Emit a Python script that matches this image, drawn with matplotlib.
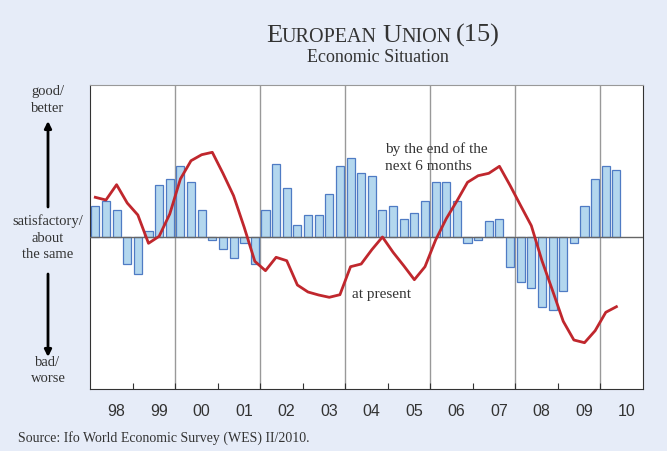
import numpy as np
import matplotlib.pyplot as plt

# quarterly data, 1998Q1 .. 2010Q2 (balance, arbitrary units)
present = [39.7, 37, 52.3, 34,
           22, -6.3, 0.7, 23,
           58, 76.3, 82.3, 84.7,
           63.7, 41.3, 9.7, -24.3,
           -33.7, -20.3, -23.7, -48,
           -55, -58, -60.3, -57.7,
           -29.7, -27, -12.7, 0,
           -15.3, -28.7, -42.7, -29.7,
           -3, 18.3, 36, 54.7,
           61.3, 63.7, 70.7, 51.6,
           31.3, 11.3, -23.7, -53.7,
           -84.3, -103, -105.7, -93.7,
           -75.3, -69.7]
expect6m = [30.7, 36.3, 27.3, -27.3,
            -36.7, 6.3, 52, 57.7,
            70.7, 54.7, 27.3, -3.3,
            -12.3, -20.7, -6, -27,
            27.3, 73, 48.7, 12.3,
            21.7, 21.7, 42.7, 70.7,
            79, 64, 61.3, 27.3,
            30.7, 18.3, 24.3, 36.3,
            54.7, 54.7, 36.3, -6.3,
            -3.3, 15.7, 18.3, -30.3,
            -45.3, -51.3, -69.7, -73.3,
            -54.3, -6.3, 30.7, 57.7,
            70.7, 67.3]
years = list(range(1998, 2011))
year_labels = ['98', '99', '00', '01', '02', '03', '04', '05', '06', '07', '08', '09', '10']

bg = '#e6ecf8'
txt = '#333333'
serif = 'Liberation Serif'

x = 1998 + (np.arange(len(present)) + 0.5) / 4

fig = plt.figure(figsize=(6.67, 4.52), dpi=100, facecolor=bg)
ax = fig.add_axes([90/667, 62/452, 553/667, 304/452])
ax.set_facecolor('white')

ax.bar(x, expect6m, width=0.19, color='#b3d7ee', edgecolor='#4f7bc4', linewidth=0.9, zorder=2)
ax.axhline(0, color='#666666', lw=1, zorder=3)
ax.plot(x, present, color='#c0272d', lw=2, zorder=4)

for g in range(2000, 2011, 2):
    ax.axvline(g, color='#999999', lw=1, zorder=1)

ax.set_xlim(1998, 2011)
ax.set_ylim(-152, 152)
ax.set_yticks([])
ax.set_xticks(years[1:])
ax.set_xticklabels([])
ax.set_xticks([y + 0.62 for y in years], year_labels, minor=True)
ax.tick_params(axis='x', which='major', direction='in', length=4, color='#333333')
ax.tick_params(axis='x', which='minor', length=0, pad=10, labelsize=11.5, labelcolor='#333333')
for lab in ax.get_xticklabels(minor=True):
    lab.set_family('Liberation Sans')
for s in ['left', 'bottom', 'right']:
    ax.spines[s].set_color('#333333')
ax.spines['top'].set_color('#999999')

ax.text(385, 452 - 149, 'by the end of the', transform=None, fontsize=11, family=serif,
        color=txt, va='center')
ax.text(385, 452 - 167, 'next 6 months', transform=None, fontsize=11, family=serif,
        color=txt, va='center')
ax.text(352, 452 - 295, 'at present', transform=None, fontsize=11, family=serif,
        color=txt, va='center')

# left side labels and arrows
for s, yy in [('good/', 92), ('better', 109), ('satisfactory/', 221), ('about', 238),
              ('the same', 255), ('bad/', 363), ('worse', 379)]:
    fig.text(48/667, 1 - yy/452, s, ha='center', va='center', fontsize=10.5,
             family=serif, color=txt)
ax.annotate('', xy=(48, 452 - 122), xytext=(48, 452 - 208), xycoords='figure pixels',
            arrowprops=dict(arrowstyle='-|>', lw=2, color='black', mutation_scale=10,
                            shrinkA=0, shrinkB=0), annotation_clip=False)
ax.annotate('', xy=(48, 452 - 358), xytext=(48, 452 - 275), xycoords='figure pixels',
            arrowprops=dict(arrowstyle='-|>', lw=2, color='black', mutation_scale=10,
                            shrinkA=0, shrinkB=0), annotation_clip=False)

# title in small caps, pieces placed side by side
pieces = [('E', 19), ('UROPEAN', 14.5), (' ', 14.5), ('U', 19), ('NION', 14.5), (' ', 14.5), ('(15)', 19)]
r = fig.canvas.get_renderer()
objs = []
total = 0
for s, fs in pieces:
    t = fig.text(0, 1 - 42/452, s.replace(' ', '\u00a0'), fontsize=fs, family=serif,
                 color=txt, va='baseline', ha='left')
    w = t.get_window_extent(r).width if s != ' ' else fs * 0.25 * 100 / 72
    objs.append((t, w))
    total += w
xpos = 383 - total / 2
for t, w in objs:
    t.set_x(xpos / 667)
    xpos += w

fig.text(378/667, 1 - 58/452, 'Economic Situation', ha='center', va='center',
         fontsize=13, family=serif, color=txt)
fig.text(18/667, 1 - 438/452, 'Source: Ifo World Economic Survey (WES) II/2010.',
         ha='left', va='center', fontsize=10, family=serif, color=txt)

fig.savefig('out.png', dpi=100, facecolor=bg)
